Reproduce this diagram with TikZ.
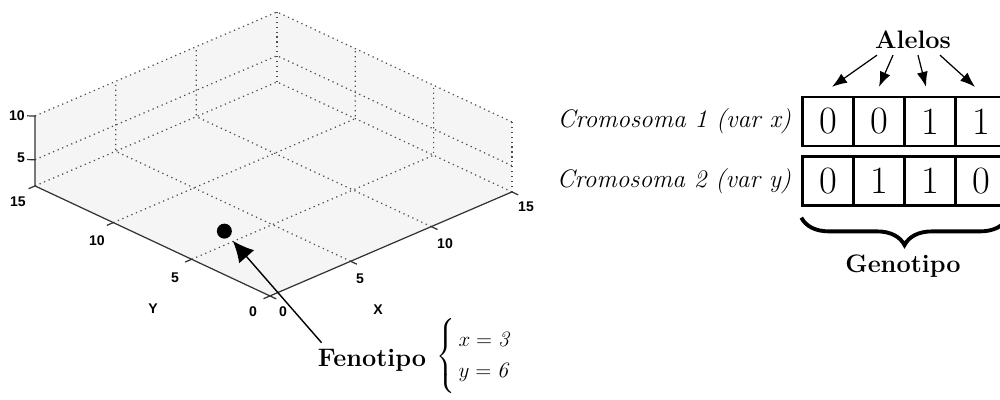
\documentclass[tikz,border=0pt]{standalone}
\usepackage{fontspec}
\usepackage{amsmath}
\usetikzlibrary{arrows.meta,decorations.pathreplacing}
\newfontfamily\ejefont{Liberation Sans}
\tikzset{
	malla/.style={dash pattern=on 0.7pt off 2.1pt, gray!60!black, line width=0.7pt},
	eje/.style={gray!40!black, line width=0.7pt},
	etiq/.style={font=\ejefont\bfseries\fontsize{8}{9}\selectfont, inner sep=0pt},
	titulo/.style={font=\bfseries\fontsize{14.4}{17}\selectfont},
	celda/.style={draw, line width=1.3pt, minimum width=1.02cm, minimum height=0.98cm, inner sep=0pt, font=\fontsize{22}{26}\selectfont},
	flecha/.style={-{Latex[length=0.3cm,width=0.22cm]}, line width=0.7pt},
}

\begin{document}
\begin{tikzpicture}[x=0.02cm, y=-0.02cm]
	\useasboundingbox (0,0) rectangle (1000,399);
	\begin{scope}[shift={(5.4cm,-6.27cm)}, x={(0.3227cm,0.1387cm)}, y={(-0.3133cm,0.1467cm)}, z={(0cm,0.175cm)}]
		\fill[black!4] (0,0,2) -- (15,0,2) -- (15,0,10) -- (15,15,10) -- (0,15,10) -- (0,15,2) -- cycle;
		\foreach \t in {5,10}{
			\draw[malla] (\t,0,2) -- (\t,15,2) -- (\t,15,10);
			\draw[malla] (0,\t,2) -- (15,\t,2) -- (15,\t,10);
			\draw[malla] (0,15,\t) -- (15,15,\t) -- (15,0,\t);
		}
		\draw[malla] (0,15,2) -- (15,15,2) -- (15,0,2);
		\draw[malla] (15,15,2) -- (15,15,10);
		\draw[malla] (15,0,2) -- (15,0,10);
		\draw[eje] (0,15,10) -- (0,15,2) -- (0,0,2) -- (15,0,2);
		\foreach \t in {0,5,10,15}{
			\draw[eje] (\t,0,2) -- (\t,-0.4,2);
			\draw[eje] (0,\t,2) -- (-0.4,\t,2);
		}
		\foreach \h in {5,10}
			\draw[eje] (0,15,\h) -- (-0.25,15.25,\h);
		\node[circle, fill, inner sep=0pt, minimum size=0.3cm] (punto) at (3,6,2) {};
	\end{scope}

	\node[etiq] (x0) at (283,312) {0};
	\node[etiq] (x5) at (360,279) {5};
	\node[etiq] (x10) at (445,244) {10};
	\node[etiq] (x15) at (526,207) {15};
	\node[etiq] (y0) at (253,312) {0};
	\node[etiq] (y5) at (175,278) {5};
	\node[etiq] (y10) at (97,241) {10};
	\node[etiq] (y15) at (18,202) {15};
	\node[etiq] (z5) at (21,158) {5};
	\node[etiq] (z10) at (17,116) {10};
	\node[etiq] (ejex) at (378,310) {X};
	\node[etiq] (ejey) at (153,309) {Y};

	\node[titulo] (fenotipo) at (372,360) {Fenotipo};
	\node[anchor=west, inner sep=0pt, font=\fontsize{12.5}{15}\selectfont] (valores) at (436,356)
		{$\left\{\rule[-20pt]{0pt}{46pt}\renewcommand{\arraystretch}{1.15}\begin{array}{@{\,}l}x = \mathit{3}\\ y = \mathit{6}\end{array}\right.$};
	\draw[-{Latex[length=0.42cm,width=0.4cm]}, line width=0.8pt, shorten >=0.1cm] ([xshift=0.2cm]fenotipo.north west) -- (punto);

	\node[titulo] (alelos) at (913,40) {Alelos};
	\foreach \b [count=\i] in {0,0,1,1}
		\node[celda] (c1\i) at (777+51*\i,121.5) {\b};
	\foreach \b [count=\i] in {0,1,1,0}
		\node[celda] (c2\i) at (777+51*\i,181) {\b};
	\node[anchor=east, inner sep=0pt, font=\itshape\fontsize{14.4}{17}\selectfont] (crom1) at ([xshift=-0.2cm]c11.west) {Cromosoma 1 (var x)};
	\node[anchor=east, inner sep=0pt, font=\itshape\fontsize{14.4}{17}\selectfont] (crom2) at ([xshift=-0.2cm]c21.west) {Cromosoma 2 (var y)};
	\draw[flecha] ([xshift=-0.72cm]alelos.south) -- ([xshift=0.08cm,yshift=0.18cm]c11.north);
	\draw[flecha] ([xshift=-0.4cm]alelos.south) -- ([yshift=0.18cm]c12.north);
	\draw[flecha] ([xshift=0.1cm]alelos.south) -- ([xshift=-0.08cm,yshift=0.18cm]c13.north);
	\draw[flecha] ([xshift=0.54cm]alelos.south) -- ([xshift=-0.12cm,yshift=0.18cm]c14.north);
	\draw[decorate, decoration={brace, mirror, amplitude=0.55cm}, line width=2.2pt] ([yshift=-0.22cm]c21.south west) -- ([yshift=-0.22cm]c24.south east);
	\node[titulo] (genotipo) at (903,266) {Genotipo};
\end{tikzpicture}
\end{document}
